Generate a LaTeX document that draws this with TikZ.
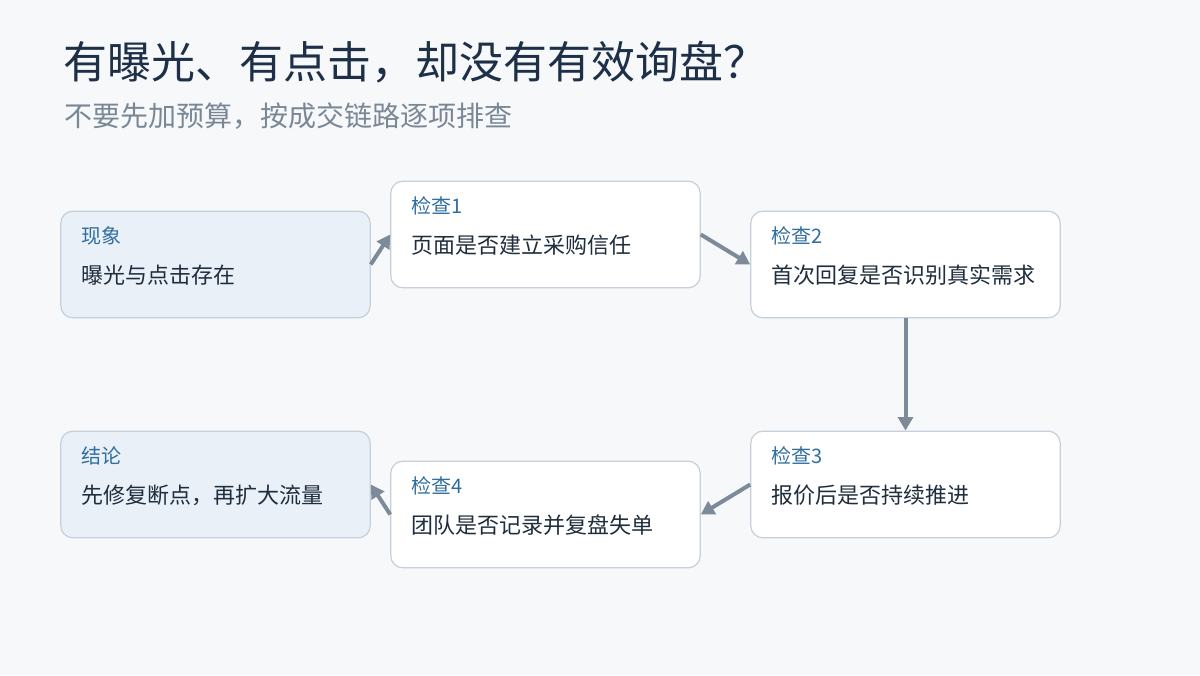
\documentclass[tikz,border=0pt]{standalone}
\usepackage{fontspec}
\setmainfont{Noto Sans CJK SC}
\usetikzlibrary{arrows.meta}
\definecolor{bg}{HTML}{F6F8FA}
\definecolor{lb}{HTML}{E9F0F7}
\definecolor{bd}{HTML}{C5D0DB}
\definecolor{lab}{HTML}{2F6E9F}
\definecolor{txt}{HTML}{1F2D3D}
\definecolor{ttl}{HTML}{1E3048}
\definecolor{sub}{HTML}{7A8896}
\definecolor{arr}{HTML}{7D8A99}
\begin{document}
\begin{tikzpicture}[x=0.75pt,y=-0.75pt,
  box/.style={draw=bd,line width=0.9pt,rounded corners=9pt,minimum width=232pt,minimum height=80pt,inner sep=0pt},
  lab/.style={anchor=west,text=lab,font=\fontsize{15}{18}\selectfont},
  txt/.style={anchor=west,text=txt,font=\fontsize{16.5}{20}\selectfont},
  con/.style={draw=arr,line width=3pt,-{Triangle[length=10pt,width=11pt]}}]
\fill[bg] (0,0) rectangle (1200,675);
\useasboundingbox (0,0) rectangle (1200,675);
\node[anchor=west,text=ttl,font=\fontsize{33}{40}\selectfont] (t) at (59,62) {有曝光、有点击，却没有有效询盘？};
\node[anchor=west,text=sub,font=\fontsize{21}{26}\selectfont] (s) at (60,116) {不要先加预算，按成交链路逐项排查};
\node[box,fill=lb] (a) at (215.5,264.5) {};
\node[box,fill=white] (b) at (545.5,234.5) {};
\node[box,fill=white] (c) at (905.5,264.5) {};
\node[box,fill=white] (d) at (905.5,484.5) {};
\node[box,fill=white] (e) at (545.5,514.5) {};
\node[box,fill=lb] (f) at (215.5,484.5) {};
\node[lab] (al) at (77,236) {现象}; \node[txt] (at) at (77,275) {曝光与点击存在};
\node[lab] (bl) at (407,206) {检查1}; \node[txt] (bt) at (407,245) {页面是否建立采购信任};
\node[lab] (cl) at (767,236) {检查2}; \node[txt] (ct) at (767,275) {首次回复是否识别真实需求};
\node[lab] (dl) at (767,456) {检查3}; \node[txt] (dt) at (767,495) {报价后是否持续推进};
\node[lab] (el) at (407,486) {检查4}; \node[txt] (et) at (407,525) {团队是否记录并复盘失单};
\node[lab] (fl) at (77,456) {结论}; \node[txt] (ft) at (77,495) {先修复断点，再扩大流量};
\draw[con] (a.east) -- (b.west);
\draw[con] (b.east) -- (c.west);
\draw[con] (c.south) -- (d.north);
\draw[con] (d.west) -- (e.east);
\draw[con] (e.west) -- (f.east);
\end{tikzpicture}
\end{document}
